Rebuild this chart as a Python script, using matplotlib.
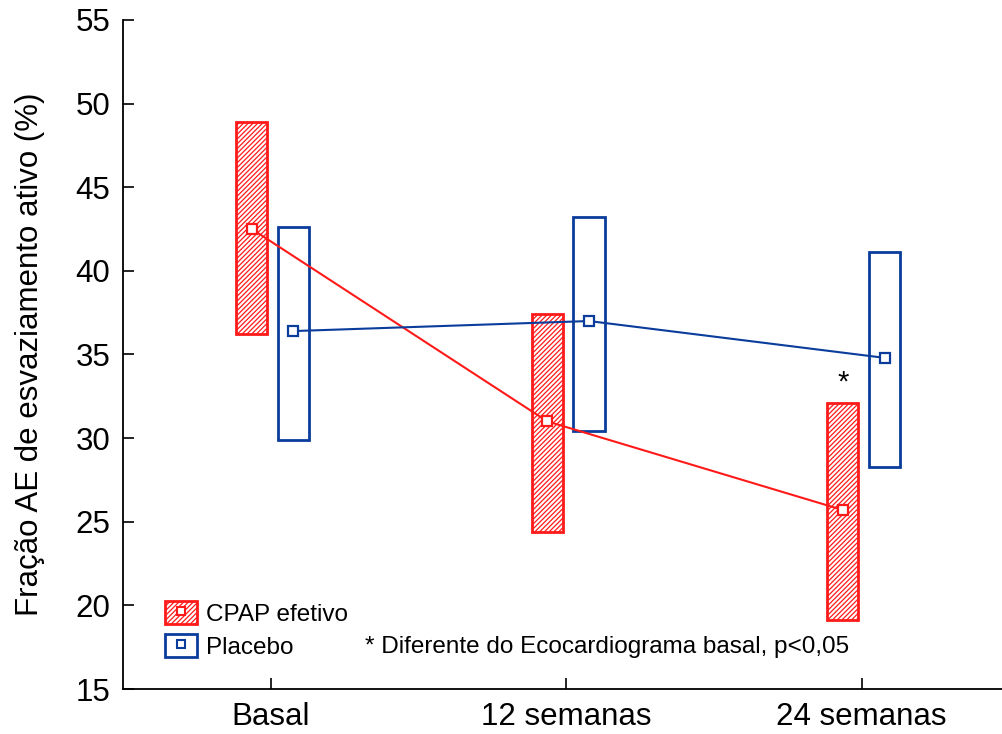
import numpy as np
import matplotlib
matplotlib.use('Agg')
import matplotlib.pyplot as plt
from matplotlib.lines import Line2D
from matplotlib.patches import Patch

plt.rcParams['font.family'] = ['Liberation Sans', 'DejaVu Sans']
plt.rcParams['hatch.linewidth'] = 0.9

# dados
grupos = ['Basal', '12 semanas', '24 semanas']
cpap_media = [42.5, 31.0, 25.7]
cpap_inf = [36.2, 24.4, 19.1]
cpap_sup = [48.9, 37.4, 32.1]
placebo_media = [36.4, 37.0, 34.8]
placebo_inf = [29.9, 30.4, 28.3]
placebo_sup = [42.6, 43.2, 41.1]

vermelho = '#ff1a1a'
azul = '#0a3c9c'

fig = plt.figure(figsize=(10.03, 7.34), dpi=100)
ax = fig.add_axes([0.1226, 0.0613, 0.8774, 0.9115])

x = np.arange(len(grupos))
x_cpap = x - 0.064
x_plac = x + 0.077
larg = 0.106

# caixas (intervalos)
ax.bar(x_cpap, np.array(cpap_sup) - np.array(cpap_inf), bottom=cpap_inf, width=larg,
       facecolor='white', edgecolor=vermelho, hatch='///////', linewidth=2, zorder=2)
ax.bar(x_plac, np.array(placebo_sup) - np.array(placebo_inf), bottom=placebo_inf, width=larg,
       facecolor='white', edgecolor=azul, linewidth=2, zorder=2)

# medias
ax.plot(x_cpap, cpap_media, color=vermelho, lw=1.5, marker='s', ms=7,
        mfc='white', mec=vermelho, mew=1.6, zorder=3)
ax.plot(x_plac, placebo_media, color=azul, lw=1.5, marker='s', ms=7,
        mfc='white', mec=azul, mew=1.6, zorder=3)

ax.text(x_cpap[2], 33.3, '*', ha='center', va='center', fontsize=21)

ax.set_xlim(-0.5, 2.478)
ax.set_ylim(15, 55)
ax.set_yticks(range(15, 56, 5))
ax.set_xticks(x)
ax.set_xticklabels(grupos)
ax.tick_params(direction='in', length=8, width=1.2, labelsize=22.5)
ax.tick_params(axis='y', pad=9)
ax.tick_params(axis='x', pad=9)
ax.spines['top'].set_visible(False)
ax.spines['right'].set_visible(False)
for s in ['left', 'bottom']:
    ax.spines[s].set_linewidth(1.3)
ax.set_ylabel('Fração AE de esvaziamento ativo (%)', fontsize=22.5)
ax.yaxis.set_label_coords(-0.089, 0.5)

# legenda
h_cpap = (Patch(facecolor='white', edgecolor=vermelho, hatch='///////', linewidth=2),
          Line2D([], [], ls='none', marker='s', ms=6, mfc='white', mec=vermelho, mew=1.5))
h_plac = (Patch(facecolor='white', edgecolor=azul, linewidth=2),
          Line2D([], [], ls='none', marker='s', ms=6, mfc='white', mec=azul, mew=1.5))
ax.legend([h_cpap, h_plac], ['CPAP efetivo', 'Placebo'], loc='lower left',
          bbox_to_anchor=(0.048, 0.045), frameon=False, fontsize=17.5,
          borderpad=0, borderaxespad=0,
          handlelength=1.32, handleheight=1.07, handletextpad=0.35, labelspacing=0.33)
ax.text(0.275, 0.063, '* Diferente do Ecocardiograma basal, p<0,05', transform=ax.transAxes,
        fontsize=17.5, va='center', ha='left')

fig.savefig('out.png', dpi=100)
